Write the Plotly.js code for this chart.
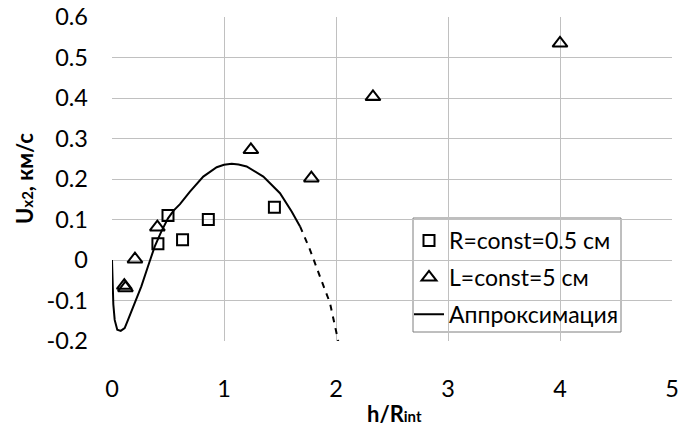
<!DOCTYPE html>
<html>
<head>
<meta charset="utf-8">
<script src="https://cdn.plot.ly/plotly-3.0.1.min.js"></script>
<style>
html,body{margin:0;padding:0;background:#fff;}
#chart{width:682px;height:436px;}
</style>
</head>
<body>
<div id="chart"></div>
<script>
// Series R=const=0.5 см (squares)
const rX = [0.41, 0.50, 0.63, 0.86, 1.45];
const rY = [0.04, 0.11, 0.05, 0.10, 0.13];
// Series L=const=5 см (triangles)
const lX = [0.11, 0.12, 0.205, 0.405, 1.24, 1.78, 2.33, 4.0];
const lY = [-0.063, -0.069, 0.002, 0.081, 0.272, 0.202, 0.403, 0.535];
// Approximation curve (solid part)
const apX = [0, 0.005, 0.012, 0.024, 0.047, 0.078, 0.113, 0.143, 0.203, 0.262, 0.321, 0.381, 0.44, 0.5, 0.55, 0.607, 0.696, 0.815, 0.935, 1.0, 1.069, 1.13, 1.202, 1.351, 1.5, 1.604, 1.679];
const apY = [0, -0.06, -0.11, -0.148, -0.172, -0.175, -0.168, -0.148, -0.107, -0.065, -0.016, 0.033, 0.07, 0.103, 0.122, 0.138, 0.169, 0.206, 0.229, 0.235, 0.2375, 0.236, 0.231, 0.206, 0.165, 0.12, 0.083];
// Approximation curve (dashed extrapolation)
const exX = [1.679, 1.768, 1.857, 1.946, 2.02];
const exY = [0.083, 0.025, -0.041, -0.106, -0.2];
// Axis ticks
const yTicks = [-0.2, -0.1, 0, 0.1, 0.2, 0.3, 0.4, 0.5, 0.6];
const yTickText = ['-0.2', '-0.1', '0', '0.1', '0.2', '0.3', '0.4', '0.5', '0.6'];
const xTicks = [0, 1, 2, 3, 4, 5];
const xTickText = ['0', '1', '2', '3', '4', '5'];
const legendNames = ['R=const=0.5 см', 'L=const=5 см', 'Аппроксимация'];

const FONT = 'Lato, "Open Sans", sans-serif';
const FS = 23.5;

const traces = [
  {x: rX, y: rY, type: 'scatter', mode: 'markers', name: legendNames[0], legendgroup: 'a',
   marker: {symbol: 'square-open', size: 11, color: '#000', line: {width: 2, color: '#000'}}},
  {x: lX, y: lY, type: 'scatter', mode: 'markers', name: legendNames[1], legendgroup: 'b',
   marker: {symbol: 'triangle-up-open', size: 13, color: '#000', line: {width: 2, color: '#000'}}},
  {x: apX, y: apY, type: 'scatter', mode: 'lines', name: legendNames[2], legendgroup: 'c',
   line: {color: '#000', width: 2, shape: 'linear'}},
  {x: exX, y: exY, type: 'scatter', mode: 'lines', showlegend: false,
   line: {color: '#000', width: 2, dash: '6px,6px'}}
];

const px = v => (v - 112) / 560;
const py = v => (341 - v) / 324;

const layout = {
  width: 682, height: 436,
  margin: {l: 112, r: 10, t: 17, b: 95, pad: 0},
  paper_bgcolor: '#fff', plot_bgcolor: '#fff',
  font: {family: FONT, size: FS, color: '#000'},
  showlegend: true,
  legend: {x: px(409), y: py(219), xanchor: 'left', yanchor: 'top',
    bgcolor: 'rgba(0,0,0,0)', borderwidth: 0, traceorder: 'grouped', tracegroupgap: 4,
    font: {family: FONT, size: 23, color: '#000'}, itemwidth: 30},
  shapes: [
    {type: 'rect', xref: 'paper', yref: 'paper', x0: px(413), x1: px(621), y0: py(332), y1: py(218),
     fillcolor: '#fff', line: {color: '#7f7f7f', width: 1}, layer: 'below'}
  ],
  xaxis: {range: [0, 5], tickvals: xTicks, ticktext: xTickText,
    showgrid: true, gridcolor: '#c0c0c0', gridwidth: 1,
    zeroline: false, showline: false, ticks: '', ticklabelstandoff: 31,
    tickfont: {family: FONT, size: FS, color: '#000'}, fixedrange: true},
  yaxis: {range: [-0.2, 0.6], tickvals: yTicks, ticktext: yTickText,
    showgrid: true, gridcolor: '#c0c0c0', gridwidth: 1,
    zeroline: false, showline: false, ticks: '', ticklabelstandoff: 23,
    tickfont: {family: FONT, size: FS, color: '#000'}, fixedrange: true},
  annotations: [
    {text: '<b>h/R<span style="font-size:15px">int</span></b>', xref: 'paper', yref: 'paper',
     x: px(394), y: py(413), xanchor: 'center', yanchor: 'middle',
     showarrow: false, font: {family: FONT, size: 22, color: '#000'}},
    {text: '<b>U<span style="font-size:15px">x2</span>, км/с</b>', xref: 'paper', yref: 'paper',
     x: px(24), y: py(179), xanchor: 'center', yanchor: 'middle', textangle: -90,
     showarrow: false, font: {family: FONT, size: 22, color: '#000'}}
  ]
};

Plotly.newPlot('chart', traces, layout, {displayModeBar: false, staticPlot: true});
</script>
</body>
</html>
